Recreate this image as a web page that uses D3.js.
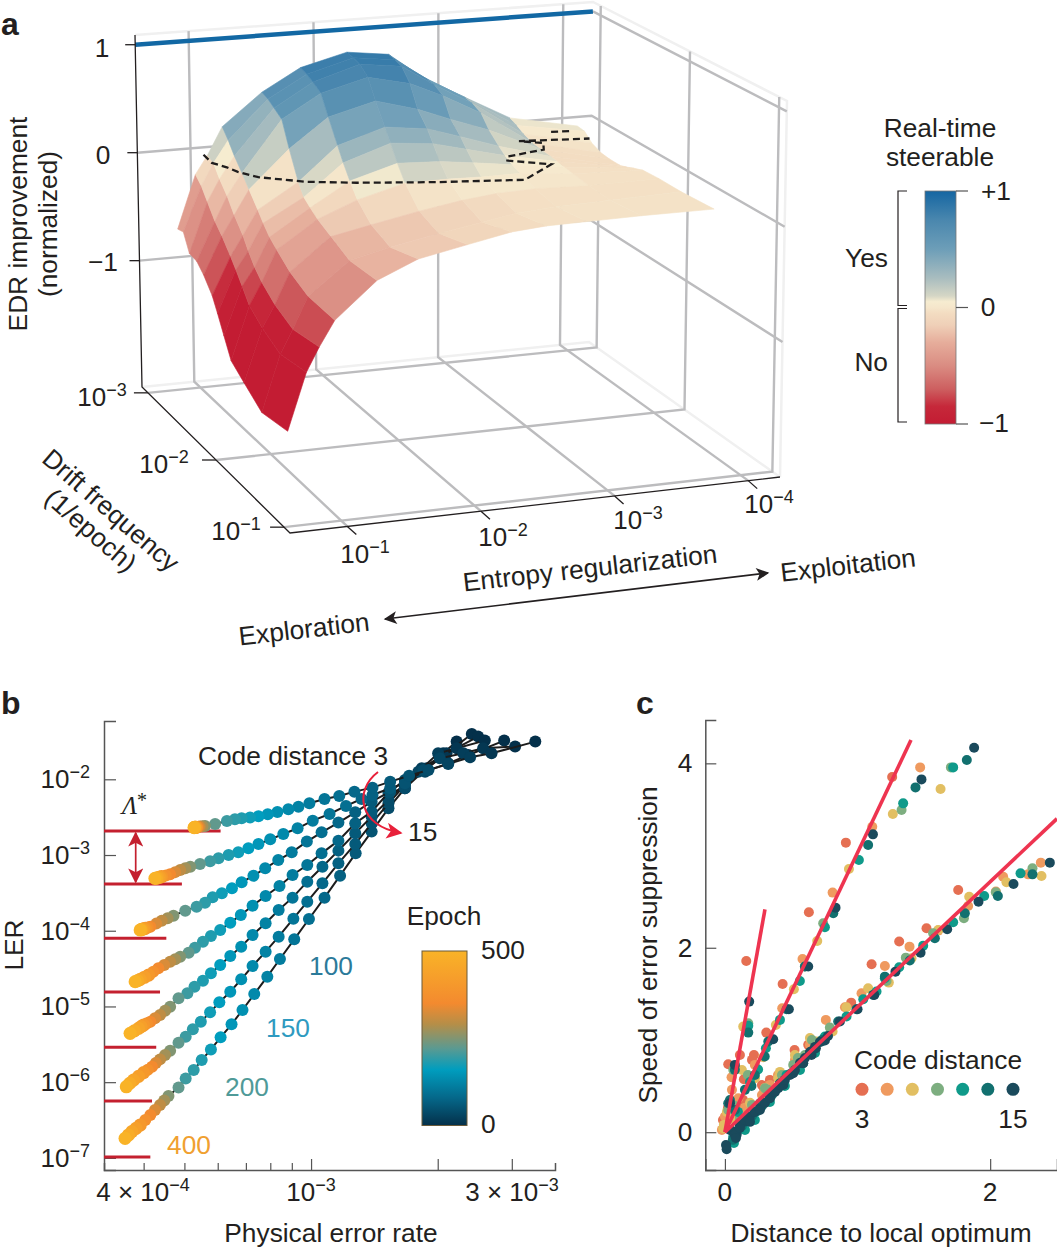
<!DOCTYPE html>
<html>
<head>
<meta charset="utf-8">
<script src="https://cdn.jsdelivr.net/npm/d3@7"></script>
<style>
  html, body { margin: 0; padding: 0; background: #fff; overflow: hidden; }
  text { font-family: "Liberation Sans", Arial, sans-serif; fill: #231f20; }
</style>
</head>
<body>
<div id="chart"></div>
<script>
// ---- panel a: surface, exponents of the two log axes
const entropyExp = [-0.79, -0.94, -1.04, -1.16, -1.48, -1.79, -2.16, -2.49, -2.75, -3.05, -3.46, -4.00];
const driftExp = [-2.913, -2.83, -2.746, -2.641, -2.543, -2.422, -2.348, -2.261, -2.161, -1.978, -1.724, -1.348];
const edrImprovement = [
  [-0.63, -0.14, 0.03, 0.28, 0.57, 0.77, 0.88, 0.83, 0.60, 0.40, 0.14, 0.01],
  [-0.61, -0.20, 0.00, 0.20, 0.55, 0.75, 0.87, 0.82, 0.61, 0.41, 0.11, 0.00],
  [-0.76, -0.30, -0.10, 0.10, 0.51, 0.72, 0.85, 0.80, 0.60, 0.40, 0.07, -0.07],
  [-0.77, -0.42, -0.20, 0.00, 0.46, 0.67, 0.78, 0.69, 0.55, 0.36, 0.04, -0.11],
  [-0.84, -0.50, -0.32, -0.10, 0.24, 0.50, 0.61, 0.50, 0.38, 0.25, 0.03, -0.12],
  [-0.96, -0.62, -0.44, -0.22, 0.00, 0.30, 0.43, 0.38, 0.28, 0.16, 0.02, -0.12],
  [-1.08, -0.70, -0.54, -0.30, -0.10, 0.18, 0.32, 0.28, 0.20, 0.11, 0.01, -0.10],
  [-1.23, -0.80, -0.64, -0.38, -0.15, 0.06, 0.18, 0.16, 0.12, 0.07, 0.00, -0.07],
  [-1.40, -0.92, -0.72, -0.44, -0.20, -0.06, 0.05, 0.05, 0.04, 0.04, -0.01, -0.04],
  [-1.49, -1.02, -0.82, -0.54, -0.26, -0.19, -0.11, -0.05, -0.02, -0.01, -0.03, -0.03],
  [-1.61, -1.11, -0.90, -0.62, -0.34, -0.26, -0.18, -0.12, -0.07, -0.05, -0.04, -0.03],
  [-1.56, -1.06, -0.85, -0.63, -0.32, -0.17, -0.09, -0.02, 0.00, 0.00, 0.00, -0.01]
];
// steerability boundary (dashed), two pieces
const boundaryEntropy = [-1.04, -1.03, -1.10, -1.14, -1.24, -1.54, -1.88, -2.44, -3.06, -3.40, -3.14, -3.18, -3.51, -3.58, -3.43, -3.95];
const boundaryDrift = [-2.972, -2.835, -2.748, -2.663, -2.552, -2.413, -2.326, -2.217, -2.12, -2.33, -2.459, -2.522, -2.587, -2.696, -2.761, -2.702];
const islandEntropy = [-3.76, -3.91];
const islandDrift = [-2.87, -2.854];

const edrTicks = [-1, 0, 1];
const entropyTicks = [-1, -2, -3, -4];
const driftTicks = [-3, -2, -1];
const steerValues = [1, 0.75, 0.5, 0.25, 0.1, 0.05, 0, -0.05, -0.15, -0.3, -0.5, -0.7, -0.85, -1];
const steerColors = ["#1566a2", "#4a87ae", "#6d9eb8", "#a9bdbf", "#d5d6c5", "#f6ecd0", "#f5e6cb", "#f3dcc1", "#efd0b8", "#e6ad9b", "#da8c82", "#cd5f60", "#c6283a", "#c31c33"];

// ---- panel b: log10 physical error rate and log10 LER per code distance
const epochs = [0, 10, 20, 30, 40, 50, 60, 70, 80, 90, 100, 110, 120, 130, 140, 150, 160, 170, 180, 190, 200, 225, 250, 275, 300, 325, 350, 375, 400, 425, 450, 475, 500];
const per3 = [-2.467, -2.571, -2.622, -2.674, -2.721, -2.767, -2.812, -2.854, -2.897, -2.933, -2.968, -3.004, -3.030, -3.054, -3.080, -3.103, -3.125, -3.145, -3.165, -3.181, -3.200, -3.228, -3.252, -3.258, -3.264, -3.267, -3.270, -3.272, -3.273, -3.275, -3.276, -3.277, -3.278];
const ler3 = [-1.502, -1.657, -1.709, -1.797, -1.877, -1.952, -2.031, -2.110, -2.163, -2.220, -2.260, -2.317, -2.361, -2.396, -2.432, -2.462, -2.489, -2.506, -2.515, -2.528, -2.550, -2.590, -2.616, -2.620, -2.625, -2.628, -2.630, -2.632, -2.634, -2.634, -2.634, -2.636, -2.638];
const per5 = [-2.515, -2.591, -2.638, -2.694, -2.733, -2.777, -2.812, -2.854, -2.880, -2.917, -2.956, -2.996, -3.032, -3.066, -3.097, -3.125, -3.149, -3.173, -3.196, -3.220, -3.240, -3.264, -3.287, -3.299, -3.311, -3.323, -3.335, -3.345, -3.355, -3.359, -3.363, -3.367, -3.371];
const ler5 = [-1.568, -1.590, -1.657, -1.723, -1.877, -2.053, -2.119, -2.207, -2.260, -2.352, -2.458, -2.546, -2.647, -2.722, -2.793, -2.854, -2.911, -2.964, -3.000, -3.044, -3.083, -3.118, -3.154, -3.176, -3.198, -3.226, -3.255, -3.270, -3.286, -3.293, -3.299, -3.304, -3.308];
const per7 = [-2.541, -2.626, -2.674, -2.729, -2.777, -2.812, -2.856, -2.895, -2.935, -2.975, -3.010, -3.046, -3.078, -3.109, -3.137, -3.165, -3.188, -3.212, -3.234, -3.252, -3.272, -3.299, -3.327, -3.341, -3.355, -3.368, -3.382, -3.388, -3.394, -3.398, -3.402, -3.404, -3.406];
const ler7 = [-1.489, -1.679, -1.789, -1.899, -2.009, -2.163, -2.295, -2.436, -2.572, -2.700, -2.823, -2.964, -3.066, -3.176, -3.273, -3.361, -3.440, -3.506, -3.559, -3.629, -3.682, -3.735, -3.801, -3.834, -3.867, -3.906, -3.946, -3.957, -3.968, -3.975, -3.981, -3.986, -3.990];
const per9 = [-2.587, -2.654, -2.698, -2.745, -2.777, -2.816, -2.856, -2.895, -2.935, -2.975, -3.009, -3.044, -3.075, -3.108, -3.139, -3.167, -3.192, -3.216, -3.238, -3.257, -3.276, -3.291, -3.311, -3.323, -3.335, -3.349, -3.363, -3.375, -3.386, -3.396, -3.406, -3.412, -3.418];
const ler9 = [-1.489, -1.590, -1.657, -1.899, -2.119, -2.176, -2.427, -2.581, -2.810, -2.978, -3.132, -3.264, -3.409, -3.541, -3.669, -3.792, -3.893, -3.990, -4.070, -4.144, -4.224, -4.290, -4.343, -4.376, -4.409, -4.453, -4.497, -4.541, -4.585, -4.614, -4.642, -4.658, -4.673];
const per11 = [-2.603, -2.686, -2.737, -2.777, -2.816, -2.856, -2.895, -2.935, -2.973, -3.009, -3.044, -3.077, -3.108, -3.139, -3.166, -3.192, -3.216, -3.238, -3.257, -3.277, -3.294, -3.315, -3.335, -3.347, -3.359, -3.371, -3.382, -3.390, -3.398, -3.404, -3.410, -3.420, -3.430];
const ler11 = [-1.436, -1.679, -1.855, -2.053, -2.273, -2.493, -2.713, -2.942, -3.154, -3.352, -3.563, -3.726, -3.902, -4.056, -4.210, -4.334, -4.453, -4.563, -4.660, -4.739, -4.827, -4.893, -5.003, -5.058, -5.113, -5.157, -5.201, -5.223, -5.245, -5.267, -5.289, -5.322, -5.355];
const per13 = [-2.618, -2.678, -2.729, -2.777, -2.816, -2.856, -2.895, -2.935, -2.973, -3.009, -3.042, -3.077, -3.108, -3.139, -3.166, -3.192, -3.218, -3.240, -3.262, -3.281, -3.298, -3.315, -3.335, -3.347, -3.359, -3.369, -3.378, -3.388, -3.398, -3.410, -3.422, -3.431, -3.439];
const ler13 = [-1.401, -1.657, -1.877, -2.075, -2.317, -2.581, -2.854, -3.110, -3.374, -3.616, -3.841, -4.078, -4.277, -4.466, -4.642, -4.805, -4.946, -5.078, -5.201, -5.302, -5.399, -5.479, -5.584, -5.642, -5.699, -5.748, -5.796, -5.836, -5.875, -5.924, -5.972, -6.016, -6.060];
const per15 = [-2.654, -2.686, -2.725, -2.777, -2.816, -2.856, -2.894, -2.931, -2.968, -3.005, -3.040, -3.074, -3.104, -3.135, -3.163, -3.189, -3.215, -3.238, -3.260, -3.279, -3.298, -3.315, -3.339, -3.349, -3.359, -3.371, -3.382, -3.394, -3.406, -3.416, -3.426, -3.434, -3.442];
const ler15 = [-1.502, -1.657, -1.855, -2.119, -2.383, -2.691, -2.978, -3.273, -3.563, -3.845, -4.114, -4.373, -4.607, -4.836, -5.047, -5.236, -5.408, -5.567, -5.708, -5.840, -5.950, -6.069, -6.183, -6.243, -6.302, -6.368, -6.434, -6.500, -6.566, -6.610, -6.654, -6.698, -6.742];
// asymptotes (red bars): level and where each bar stops
const asymptoteLer = [-2.683, -3.383, -4.100, -4.809, -5.540, -6.249, -6.989];
const asymptotePer = [-3.215, -3.307, -3.344, -3.359, -3.368, -3.378, -3.382];
const perMinorTicks = [4e-4, 5e-4, 6e-4, 7e-4, 8e-4, 9e-4];
const perMajorTicks = [1e-3, 2e-3, 3e-3];
const lerTicks = [-2, -3, -4, -5, -6, -7];
const epochValues = [0, 80, 160, 220, 290, 350, 500];
const epochColors = ["#04304a", "#05688a", "#009dbe", "#5a9a92", "#b58e48", "#f38a2f", "#f9b327"];

// ---- panel c: [distance to optimum, speed of error suppression]
const speed3 = [[0.161, 1.857], [0.633, 2.385], [0.912, 3.140], [1.261, 3.852], [0.435, 1.608], [0.312, 1.080], [0.219, 0.838], [0.025, 0.737], [0.143, 0.574], [1.106, 1.821], [1.314, 2.067], [1.520, 2.211], [1.759, 2.627], [0.952, 1.405], [0.525, 0.892], [0.628, 0.947], [0.294, 0.477], [0.013, 0.152], [0.101, 0.260], [0.176, 0.278],
  [-0.015, 0.133], [0.023, 0.264], [0.136, 0.351], [0.279, 0.513], [0.339, 0.567], [0.113, 0.838], [0.204, 0.784]];
const speed5 = [[1.472, 3.956], [1.111, 3.313], [0.812, 2.598], [0.585, 1.879], [0.432, 1.344], [0.226, 0.730], [0.050, 0.596], [1.206, 1.803], [1.392, 2.012], [1.030, 1.507], [0.761, 1.218], [2.098, 2.771], [2.382, 2.923], [2.286, 2.796], [2.043, 2.609], [1.834, 2.453], [1.608, 2.186], [0.905, 1.355], [0.641, 0.947], [0.339, 0.513], [0.101, 0.369], [0.000, 0.170],
  [-0.023, 0.025], [0.038, 0.187], [0.151, 0.264], [0.279, 0.404], [0.400, 0.621], [0.528, 0.784], [0.075, 0.697], [0.053, 0.459]];
const speed7 = [[1.626, 3.721], [1.266, 3.450], [0.935, 2.854], [0.696, 2.074], [0.520, 1.550], [0.384, 1.163], [0.289, 0.813], [0.138, 1.145], [0.226, 0.585], [2.387, 2.778], [2.123, 2.710], [1.842, 2.554], [1.608, 2.193], [1.407, 1.886], [1.236, 1.622], [1.080, 1.561], [0.917, 1.355], [0.812, 1.091], [0.691, 0.983], [0.540, 0.730], [0.402, 0.585], [-0.013, 0.043],
  [-0.008, 0.079], [0.075, 0.133], [0.189, 0.318], [0.302, 0.480], [0.415, 0.654], [0.528, 0.838], [0.641, 1.022], [0.128, 0.675], [0.015, 0.220]];
const speed9 = [[1.704, 3.956], [1.332, 3.494], [0.741, 2.265], [0.603, 1.796], [0.176, 1.181], [0.063, 0.676], [2.319, 2.862], [2.043, 2.601], [1.802, 2.320], [1.570, 2.157], [1.364, 1.893], [1.219, 1.640], [0.791, 1.134], [0.603, 0.838], [0.515, 0.730], [0.302, 0.477], [0.025, 0.242],
  [0.113, 0.155], [0.204, 0.296], [0.324, 0.459], [0.430, 0.621], [0.550, 0.805], [0.656, 1.000], [0.060, 0.296], [0.173, 0.621]];
const speed11 = [[1.721, 3.956], [1.344, 3.566], [1.010, 2.952], [0.754, 2.222], [0.565, 1.640], [0.415, 1.218], [0.309, 0.910], [0.176, 1.153], [0.033, 0.314], [2.229, 2.807], [1.955, 2.562], [1.721, 2.276], [1.495, 2.023], [1.314, 1.788], [1.206, 1.669], [1.143, 1.525], [1.043, 1.442], [0.917, 1.254], [0.754, 1.037], [0.590, 0.748], [0.465, 0.621], [0.239, 0.224], [0.063, -0.047],
  [0.068, -0.117], [0.151, 0.025], [0.226, 0.133], [0.339, 0.328], [0.452, 0.502], [0.566, 0.675], [0.679, 0.860], [0.098, 0.220], [0.189, 0.545], [0.250, 0.680]];
const speed13 = [[1.824, 4.036], [1.437, 3.739], [1.080, 3.114], [0.817, 2.374], [0.603, 1.796], [0.465, 1.333], [0.327, 0.983], [0.176, 1.080], [0.075, 0.676], [2.319, 2.796], [2.058, 2.562], [1.809, 2.374], [1.583, 2.103], [1.394, 1.861], [1.206, 1.687], [1.118, 1.489], [0.992, 1.333], [0.854, 1.200], [0.729, 0.983], [0.578, 0.748], [0.415, 0.531], [0.264, 0.314], [0.025, 0.314], [0.088, -0.011],
  [0.060, -0.083], [0.128, 0.068], [0.204, 0.176], [0.279, 0.285], [0.354, 0.404], [0.430, 0.524], [0.505, 0.643], [0.581, 0.762], [0.656, 0.881], [0.732, 1.000], [0.075, 0.242], [0.151, 0.459], [0.226, 0.621], [0.038, 0.350], [0.300, 0.820], [0.200, 0.500]];
const speed15 = [[1.879, 4.170], [1.482, 3.826], [1.116, 3.230], [0.834, 2.435], [0.628, 1.796], [0.482, 1.333], [0.364, 1.008], [0.183, 1.416], [0.075, 0.730], [2.450, 2.923], [2.176, 2.692], [1.912, 2.500], [1.676, 2.200], [1.475, 1.947], [1.286, 1.741], [1.126, 1.489], [1.000, 1.333], [0.867, 1.200], [0.754, 0.994], [0.686, 0.910], [0.653, 0.838], [0.590, 0.748], [0.515, 0.640], [0.440, 0.513], [0.402, 0.477], [0.339, 0.369], [0.264, 0.260], [0.188, 0.170], [0.151, 0.116], [0.113, 0.079], [0.088, -0.029], [0.038, 0.314], [0.013, -0.184], [0.063, 0.007],
  [0.038, 0.025], [0.075, -0.029], [0.113, 0.047], [0.151, 0.133], [0.189, 0.112], [0.226, 0.220], [0.264, 0.242], [0.302, 0.318], [0.339, 0.372], [0.377, 0.437], [0.415, 0.513], [0.452, 0.567], [0.490, 0.621], [0.528, 0.675], [0.566, 0.751], [0.603, 0.805], [0.641, 0.870], [0.679, 0.925], [0.716, 0.979], [0.777, 1.044], [0.083, -0.063], [0.008, -0.138]];
const fitEndX = [0.302, 1.403, 2.504];
const fitEndY = [2.417, 4.253, 3.400];
const distanceLabels = [3, 5, 7, 9, 11, 13, 15];
const distanceColors = ["#e56f52", "#ef9a5f", "#e2bf62", "#7dae80", "#0f9a8a", "#12706f", "#1a4a5c"];

var fontSize = 26.3;
var svg = d3.select("#chart").append("svg").attr("width", 1057).attr("height", 1247);

var defs = svg.append("defs");
function marker(id, color, w, h){
  defs.append("marker").attr("id", id)
    .attr("viewBox", "0 0 10 10").attr("refX", 9).attr("refY", 5)
    .attr("markerWidth", w).attr("markerHeight", h).attr("markerUnits", "userSpaceOnUse")
    .attr("orient", "auto-start-reverse")
    .append("path").attr("d", "M0,0L10,5L0,10L2.5,5Z").attr("fill", color);
}
marker("arrowBlack", "#231f20", 15, 13);
marker("arrowRed", "#c4202f", 17, 15);
marker("arrowBright", "#e8203a", 20, 16);

// text with a raised exponent
function sciLabel(g, x, y, base, exp, anchor){
  var t = g.append("text").attr("x", x).attr("y", y)
    .attr("text-anchor", anchor || "middle").attr("font-size", 26);
  t.append("tspan").text(base);
  t.append("tspan").attr("dy", -10).attr("font-size", 18).text(exp);
  return t;
}
function label(g, x, y, s, anchor, color){
  return g.append("text").attr("x", x).attr("y", y)
    .attr("text-anchor", anchor || "middle").attr("font-size", fontSize)
    .style("fill", color || "#231f20").text(s);
}

// ---------------- panel a ----------------
var a = svg.append("g");
var tScale = d3.scaleLinear().domain([-0.571, -4.238]).range([0, 1]);
var sScale = d3.scaleLinear().domain([-3, -1]).range([0.04, 0.96]);
var zScale = d3.scaleLinear().domain([-2.17, 1.09]).range([0, 1]);
// screen corners of the plotting box, [floor, top]
var corner = {
  backLeft: [[142, 387], [135, 35]], backRight: [[589, 342], [593, 2]],
  frontLeft: [[290, 533], [281, 158]], frontRight: [[780, 477], [787, 101]]
};
function mix(p, q, f){ return [p[0] + (q[0] - p[0]) * f, p[1] + (q[1] - p[1]) * f]; }
function boxPoint(t, s, w){
  var back = mix(mix(corner.backLeft[0], corner.backRight[0], t), mix(corner.backLeft[1], corner.backRight[1], t), w);
  var front = mix(mix(corner.frontLeft[0], corner.frontRight[0], t), mix(corner.frontLeft[1], corner.frontRight[1], t), w);
  return mix(back, front, s);
}
function project(e, d, z){ return boxPoint(tScale(e), sScale(d), zScale(z)); }
var line3d = d3.line();

var steerColor = d3.scaleLinear().domain(steerValues).range(steerColors).clamp(true);

function wall(p, color, width){
  a.append("path").attr("d", line3d(p)).attr("fill", "none").attr("stroke", color).attr("stroke-width", width);
}
// pale box outline
var pale = "#f0f0f0";
wall([boxPoint(0, 0, 1), boxPoint(1, 0, 1), boxPoint(1, 1, 1), boxPoint(1, 1, 0)], pale, 2.5);
wall([boxPoint(0, 0, 0), boxPoint(1, 0, 0), boxPoint(1, 1, 0)], pale, 2.5);

var gridGrey = "#bcbcbe";
var gridWidth = 2.4;
entropyTicks.forEach(function(e){
  var t = tScale(e);
  wall([boxPoint(t, 0, 1), boxPoint(t, 0, 0), boxPoint(t, 1, 0)], gridGrey, gridWidth);
});
driftTicks.forEach(function(d){
  var s = sScale(d);
  wall([boxPoint(0, s, 0), boxPoint(1, s, 0), boxPoint(1, s, 1)], gridGrey, gridWidth);
});
edrTicks.forEach(function(z){
  var w = zScale(z);
  if(z < 1) wall([boxPoint(0, 0, w), boxPoint(1, 0, w), boxPoint(1, 1, w)], gridGrey, gridWidth);
  else wall([boxPoint(1, 0, w), boxPoint(1, 1, w)], gridGrey, gridWidth);
});

// maximum line on the back wall
wall([boxPoint(0, 0, zScale(1)), boxPoint(1, 0, zScale(1))], "#1268a4", 4.5);

// black axes
wall([boxPoint(0, 0, 1), boxPoint(0, 0, 0), boxPoint(0, 1, 0), boxPoint(1, 1, 0)], "#231f20", 1.3);
edrTicks.forEach(function(z){
  var p = boxPoint(0, 0, zScale(z));
  wall([[p[0] - 10, p[1]], p], "#231f20", 1.3);
});
driftTicks.forEach(function(d){
  var p = boxPoint(0, sScale(d), 0);
  wall([[p[0] - 14, p[1]], p], "#231f20", 1.3);
});
entropyTicks.forEach(function(e){
  var p = boxPoint(tScale(e), 1, 0);
  wall([p, [p[0] + 9, p[1] + 8]], "#231f20", 1.3);
});

// facets, far row first so nearer ones paint over
var facets = [];
d3.range(driftExp.length - 1).forEach(function(r){
  d3.range(entropyExp.length - 1).forEach(function(c){
    facets.push({
      pts: [
        project(entropyExp[c], driftExp[r], edrImprovement[r][c]),
        project(entropyExp[c + 1], driftExp[r], edrImprovement[r][c + 1]),
        project(entropyExp[c + 1], driftExp[r + 1], edrImprovement[r + 1][c + 1]),
        project(entropyExp[c], driftExp[r + 1], edrImprovement[r + 1][c])
      ],
      z: (edrImprovement[r][c] + edrImprovement[r][c + 1] + edrImprovement[r + 1][c] + edrImprovement[r + 1][c + 1]) / 4
    });
  });
});
a.append("g").selectAll("path").data(facets).enter().append("path")
  .attr("d", function(f){ return line3d(f.pts) + "Z"; })
  .attr("fill", function(f){ return steerColor(f.z); })
  .attr("stroke", function(f){ return steerColor(f.z); })
  .attr("stroke-width", 0.6);

// dashed boundary
function dashed(es, ds){
  a.append("path")
    .attr("d", line3d(es.map(function(e, i){ return project(e, ds[i], 0); })))
    .attr("fill", "none").attr("stroke", "#1f1d1d").attr("stroke-width", 2.3).attr("stroke-dasharray", "7,4");
}
dashed(boundaryEntropy, boundaryDrift);
dashed(islandEntropy, islandDrift);

// labels of panel a
label(a, 102, 57, "1");
label(a, 103, 164, "0");
label(a, 103, 271, "−1");
a.append("g").attr("transform", "translate(27,224) rotate(-90)").call(function(g){ label(g, 0, 0, "EDR improvement"); });
a.append("g").attr("transform", "translate(57,224) rotate(-90)").call(function(g){ label(g, 0, 0, "(normalized)"); });
sciLabel(a, 102, 406, "10", "−3");
sciLabel(a, 164, 473, "10", "−2");
sciLabel(a, 236, 540, "10", "−1");
sciLabel(a, 365, 563, "10", "−1");
sciLabel(a, 503, 546, "10", "−2");
sciLabel(a, 638, 529, "10", "−3");
sciLabel(a, 769, 513, "10", "−4");
a.append("g").attr("transform", "translate(105,517) rotate(41)").call(function(g){ label(g, 0, 0, "Drift frequency"); });
a.append("g").attr("transform", "translate(85,537) rotate(41)").call(function(g){ label(g, 0, 0, "(1/epoch)"); });
a.append("g").attr("transform", "translate(591,577) rotate(-6.5)").call(function(g){ label(g, 0, 0, "Entropy regularization"); });
a.append("g").attr("transform", "translate(849,574) rotate(-6.5)").call(function(g){ label(g, 0, 0, "Exploitation"); });
a.append("g").attr("transform", "translate(305,638) rotate(-6.5)").call(function(g){ label(g, 0, 0, "Exploration"); });
a.append("line").attr("x1", 385).attr("y1", 619).attr("x2", 768).attr("y2", 573)
  .attr("stroke", "#231f20").attr("stroke-width", 1.7)
  .attr("marker-start", "url(#arrowBlack)").attr("marker-end", "url(#arrowBlack)");

// colour bars: offset 0 is the top of the bar
function gradient(id, values, colors, lo, hi){
  var g = defs.append("linearGradient").attr("id", id).attr("x1", 0).attr("x2", 0).attr("y1", 0).attr("y2", 1);
  var stops = values.map(function(v, i){ return { o: (hi - v) / (hi - lo), c: colors[i] }; });
  stops.sort(function(p, q){ return p.o - q.o; });
  stops.forEach(function(st){ g.append("stop").attr("offset", st.o).attr("stop-color", st.c); });
}
gradient("steerGrad", steerValues, steerColors, -1, 1);
var steerY = d3.scaleLinear().domain([-1, 1]).range([424, 191]);
a.append("rect").attr("x", 925).attr("y", steerY(1)).attr("width", 31).attr("height", steerY(-1) - steerY(1))
  .attr("fill", "url(#steerGrad)").attr("stroke", "#777").attr("stroke-width", 0.8);
edrTicks.forEach(function(v){
  a.append("line").attr("x1", 956).attr("x2", 968).attr("y1", steerY(v)).attr("y2", steerY(v))
    .attr("stroke", "#555").attr("stroke-width", 1.2);
});
label(a, 996, 200, "+1");
label(a, 988, 316, "0");
label(a, 994, 432, "−1");
label(a, 940, 137, "Real-time");
label(a, 940, 166, "steerable");
label(a, 888, 267, "Yes", "end");
label(a, 888, 371, "No", "end");
function bracket(y0, y1){
  a.append("path").attr("d", "M907," + y0 + "H898V" + y1 + "H907").attr("fill", "none").attr("stroke", "#231f20").attr("stroke-width", 1.2);
}
bracket(191, 305.5);
bracket(308.5, 422);

// ---------------- panel b ----------------
var b = svg.append("g");
var x = d3.scaleLog().domain([3.22e-4, 3.8e-3]).range([104, 555]);
var y = d3.scaleLog().domain([Math.pow(10, -7.16), Math.pow(10, -1.23)]).range([1170, 721]);
var epochColor = d3.scaleLinear().domain(epochValues).range(epochColors);
function pow10(e){ return Math.pow(10, e); }

b.append("g").attr("transform", "translate(0,1170)")
  .call(d3.axisTop(x).tickValues(perMinorTicks).tickSize(7).tickFormat(""))
  .call(function(g){ g.selectAll("line").attr("stroke", "#555").attr("stroke-width", 1.2); g.select(".domain").attr("stroke", "#555").attr("stroke-width", 1.5); });
b.append("g").attr("transform", "translate(0,1170)")
  .call(d3.axisTop(x).tickValues(perMajorTicks).tickSize(11).tickFormat(""))
  .call(function(g){ g.selectAll("line").attr("stroke", "#555").attr("stroke-width", 1.2); g.select(".domain").remove(); });
b.append("g").attr("transform", "translate(104,0)")
  .call(d3.axisRight(y).tickValues(lerTicks.map(pow10)).tickSize(12).tickFormat(""))
  .call(function(g){ g.selectAll("line").attr("stroke", "#555").attr("stroke-width", 1.2); g.select(".domain").attr("stroke", "#555").attr("stroke-width", 1.5); });

lerTicks.forEach(function(e){
  sciLabel(b, 90, y(pow10(e)) + 9, "10", "−" + Math.abs(e), "end");
});
sciLabel(b, 143, 1201, "4 × 10", "−4");
sciLabel(b, 311, 1201, "10", "−3");
sciLabel(b, 512, 1201, "3 × 10", "−3");
label(b, 331, 1242, "Physical error rate");
b.append("g").attr("transform", "translate(23,945) rotate(-90)").call(function(g){ label(g, 0, 0, "LER"); });

// asymptote bars
asymptoteLer.forEach(function(l, i){
  b.append("line").attr("x1", x.range()[0]).attr("x2", x(pow10(asymptotePer[i])))
    .attr("y1", y(pow10(l))).attr("y2", y(pow10(l)))
    .attr("stroke", "#c4202f").attr("stroke-width", 3);
});
b.append("line").attr("x1", 135.7).attr("x2", 135.7)
  .attr("y1", y(pow10(asymptoteLer[0])) + 2).attr("y2", y(pow10(asymptoteLer[1])) - 2)
  .attr("stroke", "#c4202f").attr("stroke-width", 1.7)
  .attr("marker-start", "url(#arrowRed)").attr("marker-end", "url(#arrowRed)");
var lambda = b.append("text").attr("x", 122).attr("y", 814).attr("font-size", 25)
  .style("font-family", "'Liberation Serif', serif").style("font-style", "italic").text("Λ");
lambda.append("tspan").attr("dy", -7).attr("font-size", 20).style("font-style", "normal").text("*");

// curves
var perSeries = [per15, per13, per11, per9, per7, per5, per3];
var lerSeries = [ler15, ler13, ler11, ler9, ler7, ler5, ler3];
perSeries.forEach(function(per, k){
  var ler = lerSeries[k];
  var pts = epochs.map(function(ep, i){ return { ep: ep, p: pow10(per[i]), l: pow10(ler[i]) }; });
  b.append("path")
    .attr("d", d3.line().x(function(d){ return x(d.p); }).y(function(d){ return y(d.l); })(pts))
    .attr("fill", "none").attr("stroke", "#1c1c1c").attr("stroke-width", 2);
  b.append("g").selectAll("circle").data(pts).enter().append("circle")
    .attr("cx", function(d){ return x(d.p); })
    .attr("cy", function(d){ return y(d.l); })
    .attr("r", function(d){ return d.ep >= 400 ? 6.6 : 6; })
    .attr("fill", function(d){ return epochColor(d.ep); });
});

label(b, 293, 765, "Code distance 3");
label(b, 408, 841, "15", "start");
b.append("path").attr("d", "M378,772C354,790 358,826 401,833")
  .attr("fill", "none").attr("stroke", "#e8203a").attr("stroke-width", 2)
  .attr("marker-end", "url(#arrowBright)");
label(b, 331, 975, "100", "middle", "#2b7a9a");
label(b, 288, 1037, "150", "middle", "#2e9ac0");
label(b, 247, 1096, "200", "middle", "#4f9a98");
label(b, 189, 1154, "400", "middle", "#f0a030");

// colour bar of panel b
gradient("epochGrad", epochValues, epochColors, 0, 500);
var epochY = d3.scaleLinear().domain([0, 500]).range([1125.5, 951]);
b.append("rect").attr("x", 422).attr("y", epochY(500)).attr("width", 45).attr("height", epochY(0) - epochY(500))
  .attr("fill", "url(#epochGrad)").attr("stroke", "#6a5a3a").attr("stroke-width", 1);
label(b, 444, 925, "Epoch");
label(b, 481, 959, "500", "start");
label(b, 481, 1133, "0", "start");

// ---------------- panel c ----------------
var c = svg.append("g");
var cx = d3.scaleLinear().domain([-0.148, 2.504]).range([705.3, 1057]);
var cy = d3.scaleLinear().domain([-0.41, 4.47]).range([1170, 720]);
c.append("g").attr("transform", "translate(0,1170)")
  .call(d3.axisTop(cx).tickValues([0, 2]).tickSize(11).tickFormat(""))
  .call(function(g){ g.selectAll("line").attr("stroke", "#555").attr("stroke-width", 1.2); g.select(".domain").attr("stroke", "#555").attr("stroke-width", 1.5); });
c.append("g").attr("transform", "translate(705.3,0)")
  .call(d3.axisRight(cy).tickValues([0, 2, 4]).tickSize(11).tickFormat(""))
  .call(function(g){ g.selectAll("line").attr("stroke", "#555").attr("stroke-width", 1.2); g.select(".domain").attr("stroke", "#555").attr("stroke-width", 1.5); });
[0, 2, 4].forEach(function(v){ label(c, 685, cy(v) + 9, v); });
[0, 2].forEach(function(v){ label(c, cx(v), 1201, v); });
label(c, 881, 1242, "Distance to local optimum");
c.append("g").attr("transform", "translate(657,945) rotate(-90)").call(function(g){ label(g, 0, 0, "Speed of error suppression"); });

[speed3, speed5, speed7, speed9, speed11, speed13, speed15].forEach(function(series, k){
  c.append("g").selectAll("circle").data(series).enter().append("circle")
    .attr("cx", function(d){ return cx(d[0]); })
    .attr("cy", function(d){ return cy(d[1]); })
    .attr("r", 5)
    .attr("fill", distanceColors[k]);
});
fitEndX.forEach(function(xEnd, i){
  c.append("line").attr("x1", cx(0)).attr("y1", cy(0)).attr("x2", cx(xEnd)).attr("y2", cy(fitEndY[i]))
    .attr("stroke", "#ee3450").attr("stroke-width", 3.6);
});

label(c, 938, 1069, "Code distance");
var legendX = d3.scalePoint().domain(distanceLabels).range([862, 1013]);
c.append("g").selectAll("circle").data(distanceLabels).enter().append("circle")
  .attr("cx", function(d){ return legendX(d); }).attr("cy", 1089.3).attr("r", 6.5)
  .attr("fill", function(d, i){ return distanceColors[i]; });
label(c, legendX(3), 1128, "3");
label(c, legendX(15), 1128, "15");

// panel letters
[["a", 1, 35], ["b", 1, 714], ["c", 636, 714]].forEach(function(p){
  svg.append("text").attr("x", p[1]).attr("y", p[2]).attr("font-size", 32).attr("font-weight", "bold").text(p[0]);
});
</script>
</body>
</html>
